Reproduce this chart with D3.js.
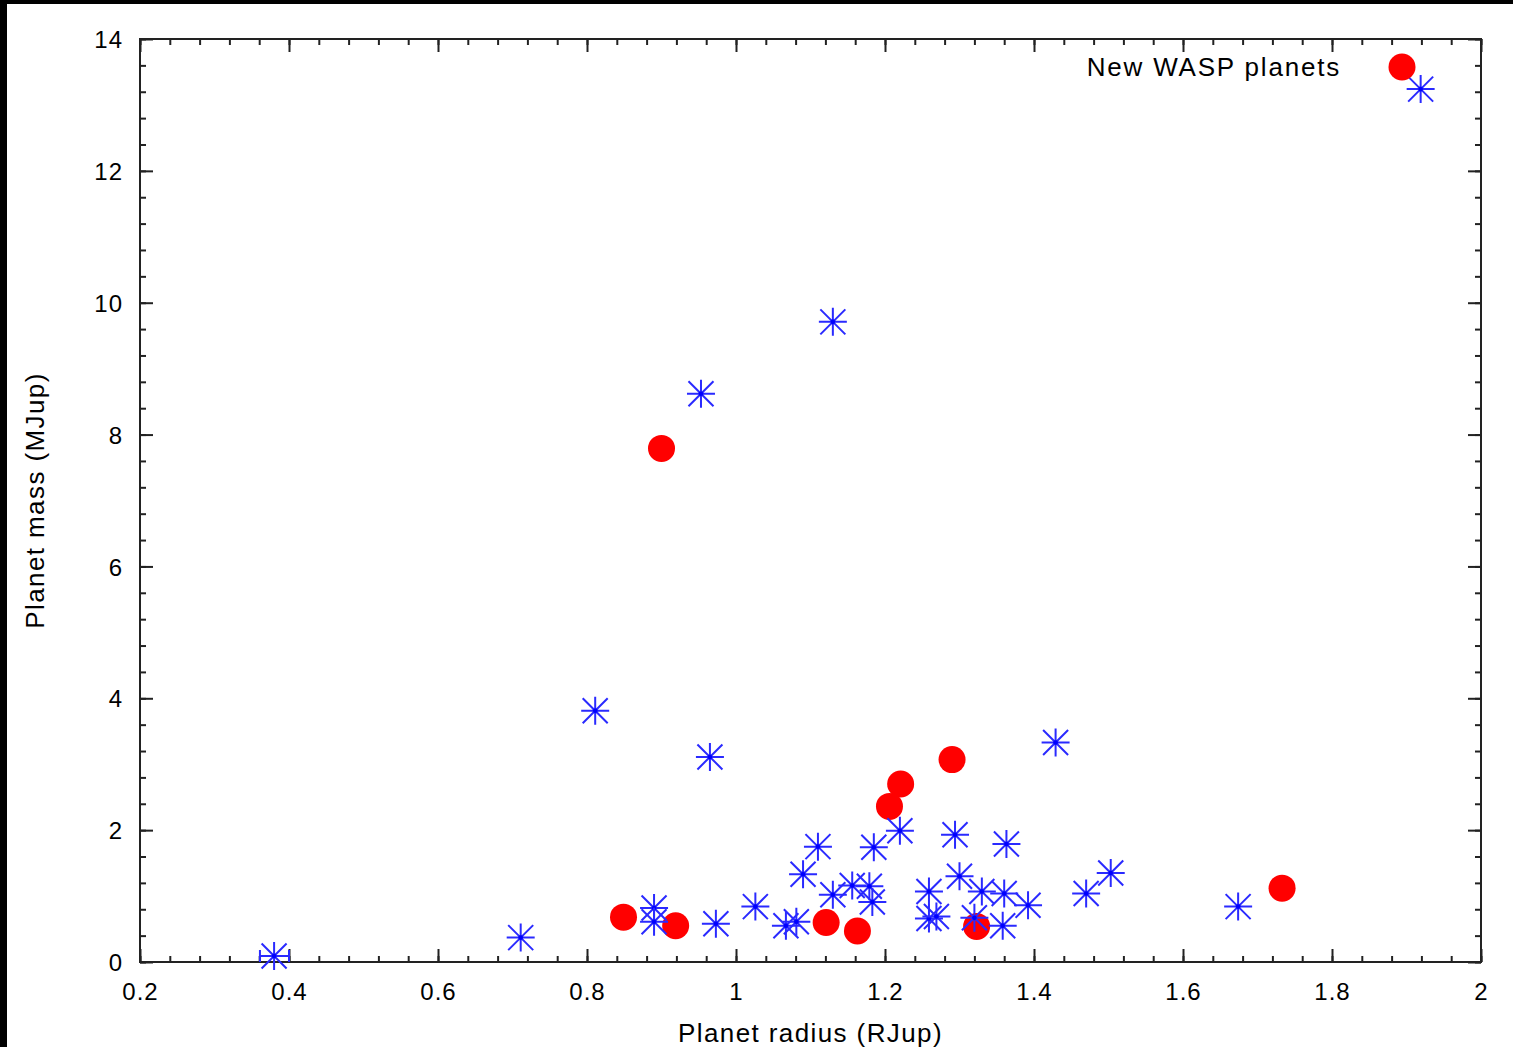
<!DOCTYPE html>
<html>
<head>
<meta charset="utf-8">
<script src="https://cdn.jsdelivr.net/npm/d3@7"></script>
<style>
  html, body { margin: 0; padding: 0; background: #fff; }
  svg { display: block; }
  text { font-family: "Liberation Sans", Arial, Helvetica, sans-serif; fill: #000; }
</style>
</head>
<body>
<svg id="chart" width="1513" height="1047"></svg>
<script>
// ---- data ----
const waspRadius = [0.849, 0.919, 0.900, 1.121, 1.163, 1.206, 1.221, 1.290, 1.323, 1.733];
const waspMass   = [0.68,  0.55,  7.79,  0.60,  0.47,  2.36,  2.70,  3.07,  0.54,  1.12];

const knownRadius = [0.380, 0.711, 0.811, 0.890, 0.890, 0.953, 0.965, 0.973, 1.026, 1.067,
                     1.081, 1.090, 1.110, 1.130, 1.130, 1.156, 1.179, 1.183, 1.185, 1.220,
                     1.259, 1.259, 1.269, 1.294, 1.300, 1.320, 1.330, 1.360, 1.363, 1.358,
                     1.392, 1.429, 1.470, 1.503, 1.674, 1.919];
const knownMass   = [0.09,  0.37,  3.81,  0.82,  0.61,  8.62,  3.11,  0.58,  0.84,  0.55,
                     0.61,  1.33,  1.75,  9.71,  1.02,  1.16,  1.15,  0.91,  1.74,  1.99,
                     1.07,  0.66,  0.69,  1.93,  1.30,  0.67,  1.07,  1.04,  1.79,  0.55,
                     0.86,  3.33,  1.04,  1.35,  0.84,  13.24];

// visible radius error bar on the smallest planet
const errRadius = [0.380];
const errMass   = [0.09];
const errLow    = [0.361];
const errHigh   = [0.400];

const xMajorTicks = [0.2, 0.4, 0.6, 0.8, 1.0, 1.2, 1.4, 1.6, 1.8, 2.0];
const xTickLabels = ["0.2", "0.4", "0.6", "0.8", "1", "1.2", "1.4", "1.6", "1.8", "2"];
const yMajorTicks = [0, 2, 4, 6, 8, 10, 12, 14];
const yTickLabels = ["0", "2", "4", "6", "8", "10", "12", "14"];
const legendLabel = "New WASP planets";
const xTitle = "Planet radius (RJup)";
const yTitle = "Planet mass (MJup)";

// ---- layout ----
const W = 1513, H = 1047;
const L = 140, R = 1481, T = 39, B = 962;
const svg = d3.select("#chart");

// black strips at left and top
svg.append("rect").attr("x", 0).attr("y", 0).attr("width", W).attr("height", 4).attr("fill", "#000");
svg.append("rect").attr("x", 0).attr("y", 0).attr("width", 7).attr("height", H).attr("fill", "#000");

const x = d3.scaleLinear().domain([0.2, 2.0]).range([L, R]);
const y = d3.scaleLinear().domain([0, 14]).range([B, T]);

const xMinor = d3.range(0, 46).map(i => 0.2 + i * 0.04).filter(v => v <= 2.0001);
const yMinor = d3.range(0, 36).map(i => i * 0.4).filter(v => v <= 14.0001);

const axisColor = "#222";
function styleAxis(g) {
  g.select(".domain").remove();
  g.selectAll(".tick line").attr("stroke", axisColor).attr("stroke-width", 2);
}

// minor ticks on all four sides
svg.append("g").attr("transform", `translate(0,${B})`)
  .call(d3.axisBottom(x).tickValues(xMinor).tickSize(-6).tickFormat(""))
  .call(styleAxis);
svg.append("g").attr("transform", `translate(0,${T})`)
  .call(d3.axisTop(x).tickValues(xMinor).tickSize(-6).tickFormat(""))
  .call(styleAxis);
svg.append("g").attr("transform", `translate(${L},0)`)
  .call(d3.axisLeft(y).tickValues(yMinor).tickSize(-6).tickFormat(""))
  .call(styleAxis);
svg.append("g").attr("transform", `translate(${R},0)`)
  .call(d3.axisRight(y).tickValues(yMinor).tickSize(-6).tickFormat(""))
  .call(styleAxis);

// major ticks
const labelFont = '"Liberation Sans", Arial, sans-serif';
const xAxisB = svg.append("g").attr("transform", `translate(0,${B})`)
  .call(d3.axisBottom(x).tickValues(xMajorTicks).tickSize(-13)
        .tickFormat((d, i) => xTickLabels[i]))
  .call(styleAxis);
xAxisB.selectAll(".tick text")
  .attr("y", 38).attr("dy", 0)
  .attr("font-size", 24).attr("letter-spacing", "1px")
  .attr("font-family", labelFont)
  .attr("fill", "#000");
svg.append("g").attr("transform", `translate(0,${T})`)
  .call(d3.axisTop(x).tickValues(xMajorTicks).tickSize(-13).tickFormat(""))
  .call(styleAxis);
const yAxisL = svg.append("g").attr("transform", `translate(${L},0)`)
  .call(d3.axisLeft(y).tickValues(yMajorTicks).tickSize(-13)
        .tickFormat((d, i) => yTickLabels[i]))
  .call(styleAxis);
yAxisL.selectAll(".tick text")
  .attr("x", -17).attr("dy", "0.36em")
  .attr("font-size", 24).attr("letter-spacing", "1px")
  .attr("font-family", labelFont)
  .attr("fill", "#000");
svg.append("g").attr("transform", `translate(${R},0)`)
  .call(d3.axisRight(y).tickValues(yMajorTicks).tickSize(-13).tickFormat(""))
  .call(styleAxis);

// frame
svg.append("rect").attr("x", L).attr("y", T).attr("width", R - L).attr("height", B - T)
  .attr("fill", "none").attr("stroke", axisColor).attr("stroke-width", 2);

// axis titles
svg.append("text").attr("x", (L + R) / 2).attr("y", 1042)
  .attr("text-anchor", "middle").attr("font-size", 26).attr("letter-spacing", "1.4px")
  .text(xTitle);
svg.append("text").attr("transform", `translate(44,${(T + B) / 2}) rotate(-90)`)
  .attr("text-anchor", "middle").attr("font-size", 26).attr("letter-spacing", "1.4px")
  .text(yTitle);

// ---- points ----
const wasp = waspRadius.map((r, i) => ({ r, m: waspMass[i] }));
const known = knownRadius.map((r, i) => ({ r, m: knownMass[i] }));
const errs = errRadius.map((r, i) => ({ r, m: errMass[i], lo: errLow[i], hi: errHigh[i] }));

svg.append("g").selectAll("circle").data(wasp).join("circle")
  .attr("cx", d => x(d.r)).attr("cy", d => y(d.m)).attr("r", 13.5)
  .attr("fill", "#ff0000");

// error bars
const eb = svg.append("g").attr("stroke", "#2a2aff").attr("stroke-width", 2).attr("fill", "none");
eb.selectAll("path").data(errs).join("path")
  .attr("d", d => {
    const yy = y(d.m), x0 = x(d.lo), x1 = x(d.hi);
    return `M${x0},${yy}H${x1}M${x0},${yy - 6}V${yy + 6}M${x1},${yy - 6}V${yy + 6}`;
  });

const starPath = "M-14,0H14M0,-14V14M-12.5,-12.5L12.5,12.5M-12.5,12.5L12.5,-12.5";
const stars = svg.append("g").selectAll("g").data(known).join("g")
  .attr("transform", d => `translate(${x(d.r)},${y(d.m)})`);
stars.append("path").attr("d", starPath).attr("stroke", "#2a2aff")
  .attr("stroke-width", 2).attr("fill", "none");
stars.append("circle").attr("r", 2.3).attr("fill", "#0000ff");

// ---- legend ----
svg.append("text").attr("x", 1341).attr("y", 76).attr("text-anchor", "end")
  .attr("font-size", 26).attr("letter-spacing", "1.8px").text(legendLabel);
svg.append("circle").attr("cx", 1402).attr("cy", 67).attr("r", 13.5).attr("fill", "#ff0000");
</script>
</body>
</html>
